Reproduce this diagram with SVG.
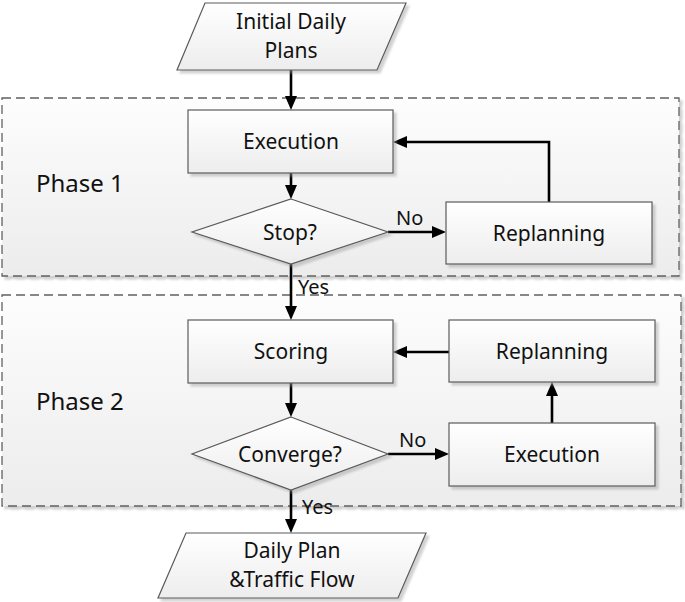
<svg xmlns="http://www.w3.org/2000/svg" width="685" height="602" viewBox="0 0 685 602">
<style>
text{font-family:"Noto Sans","Liberation Sans",sans-serif;fill:#111;}
.t{font-size:21px;text-anchor:middle;}
.ph{font-size:24px;}
.lb{font-size:20px;}
.shape{fill:url(#g);stroke:#5a5a5a;stroke-width:1.2;filter:url(#sh);}
.grp{fill:url(#g2);stroke:#606060;stroke-width:1.3;stroke-dasharray:9,5;filter:url(#sh);}
.c{fill:none;stroke:#000;stroke-width:2.6;marker-end:url(#ah);}
</style>
<defs>
<linearGradient id="g" x1="0" y1="0" x2="0" y2="1"><stop offset="0" stop-color="#ffffff"/><stop offset="1" stop-color="#ededed"/></linearGradient>
<linearGradient id="g2" x1="0" y1="0" x2="0" y2="1"><stop offset="0" stop-color="#fdfdfd"/><stop offset="1" stop-color="#ececec"/></linearGradient>
<filter id="sh" x="-5%" y="-5%" width="115%" height="120%"><feDropShadow dx="3" dy="3" stdDeviation="1" flood-color="#999" flood-opacity="0.45"/></filter>
<marker id="ah" viewBox="0 0 14 12" markerWidth="14" markerHeight="12" refX="4" refY="6" orient="auto" markerUnits="userSpaceOnUse"><path d="M0,0 L14,6 L0,12 z" fill="#000"/></marker>
</defs>

<g id="phase1"><rect class="grp" x="2" y="98" width="677" height="178"/><text class="ph" x="36" y="192">Phase 1</text></g>
<g id="phase2"><rect class="grp" x="2" y="295" width="679" height="211"/><text class="ph" x="36" y="410">Phase 2</text></g>

<g id="connectors">
<path class="c" d="M291,70 L291,100"/>
<path class="c" d="M291,173 L291,189"/>
<path class="c" d="M388,232 L436,232"/>
<path class="c" d="M549,202 L549,142 L403,142"/>
<path class="c" d="M291,264 L291,310"/>
<path class="c" d="M291,383 L291,407"/>
<path class="c" d="M388,454 L439,454"/>
<path class="c" d="M552,423 L552,392"/>
<path class="c" d="M449,352 L403,352"/>
<path class="c" d="M291,490 L291,523"/>
<text class="lb" x="396" y="225">No</text>
<text class="lb" x="298" y="294">Yes</text>
<text class="lb" x="399" y="447">No</text>
<text class="lb" x="302" y="514">Yes</text>
</g>

<g id="start"><polygon class="shape" points="205,3 406,3 377,70 177,70"/><text class="t" x="291" y="29">Initial Daily</text><text class="t" x="291" y="58">Plans</text></g>
<g id="exec1"><rect class="shape" x="188" y="110" width="205" height="63"/><text class="t" x="291" y="149">Execution</text></g>
<g id="stop"><polygon class="shape" points="291,199 388,232 291,264 192,232"/><text class="t" x="290" y="240">Stop?</text></g>
<g id="replan1"><rect class="shape" x="446" y="202" width="206" height="62"/><text class="t" x="549" y="241">Replanning</text></g>
<g id="scoring"><rect class="shape" x="188" y="320" width="205" height="63"/><text class="t" x="291" y="359">Scoring</text></g>
<g id="replan2"><rect class="shape" x="449" y="320" width="206" height="62"/><text class="t" x="552" y="359">Replanning</text></g>
<g id="converge"><polygon class="shape" points="291,417 388,454 291,490 192,454"/><text class="t" x="290" y="462">Converge?</text></g>
<g id="exec2"><rect class="shape" x="449" y="423" width="206" height="63"/><text class="t" x="552" y="462">Execution</text></g>
<g id="end"><polygon class="shape" points="186,533 426,533 398,598 158,598"/><text class="t" x="292" y="558">Daily Plan</text><text class="t" x="292" y="587">&amp;Traffic Flow</text></g>
</svg>
